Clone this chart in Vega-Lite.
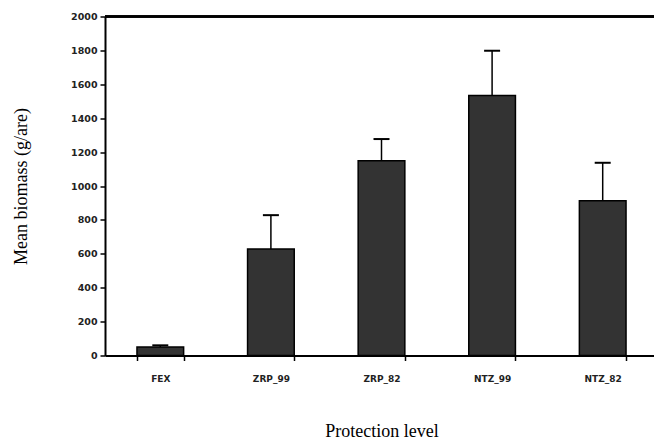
{
  "$schema": "https://vega.github.io/schema/vega-lite/v6.json",
  "autosize": {"type": "none"},
  "width": 553,
  "height": 339,
  "padding": {"left": 105, "top": 16.5, "right": 0, "bottom": 87.5},
  "background": "white",
  "config": {
    "view": {"stroke": null},
    "axis": {"ticks": true, "tickSize": 5, "tickColor": "black", "tickWidth": 1.5, "tickOpacity": 1, "labelOverlap": false, "labelFlush": false, "domainColor": "black", "domainWidth": 2, "grid": false}
  },
  "data": {"values": [
    {"level": "FEX", "mean": 50, "upper": 60},
    {"level": "ZRP_99", "mean": 629, "upper": 828},
    {"level": "ZRP_82", "mean": 1149, "upper": 1277},
    {"level": "NTZ_99", "mean": 1534, "upper": 1798},
    {"level": "NTZ_82", "mean": 913, "upper": 1137}
  ]},
  "layer": [
    {
      "mark": {"type": "bar", "color": "#333333", "stroke": "black", "strokeWidth": 1.5},
      "encoding": {
        "x": {
          "field": "level", "type": "nominal", "sort": null,
          "scale": {"paddingInner": 0.578, "paddingOuter": 0.289},
          "axis": {
            "title": "Protection level",
            "titleFont": "Liberation Serif", "titleFontSize": 18, "titleFontWeight": "normal", "titleColor": "black",
            "titlePadding": 39,
            "labelAngle": 0, "labelFont": "DejaVu Sans", "labelFontSize": 9, "labelFontWeight": "bold", "labelColor": "#222",
            "labelPadding": 14,
            "tickBand": "extent"
          }
        },
        "y": {
          "field": "mean", "type": "quantitative",
          "scale": {"domain": [0, 2000], "nice": false},
          "axis": {
            "title": "Mean biomass (g/are)",
            "titleFont": "Liberation Serif", "titleFontSize": 18, "titleFontWeight": "normal", "titleColor": "black",
            "titlePadding": 40,
            "tickCount": 10,
            "format": "d",
            "labelFont": "DejaVu Sans", "labelFontSize": 9.5, "labelFontWeight": "bold", "labelColor": "#222",
            "labelPadding": 3
          }
        }
      }
    },
    {
      "mark": {"type": "rule", "color": "black", "strokeWidth": 1.5},
      "encoding": {
        "x": {"field": "level", "type": "nominal", "sort": null},
        "y": {"field": "mean", "type": "quantitative"},
        "y2": {"field": "upper"}
      }
    },
    {
      "mark": {"type": "tick", "color": "black", "size": 16, "thickness": 2, "opacity": 1},
      "encoding": {
        "x": {"field": "level", "type": "nominal", "sort": null},
        "y": {"field": "upper", "type": "quantitative"}
      }
    },
    {
      "mark": {"type": "rule", "color": "black", "strokeWidth": 2},
      "encoding": {"y": {"datum": 2000, "type": "quantitative"}}
    }
  ]
}
